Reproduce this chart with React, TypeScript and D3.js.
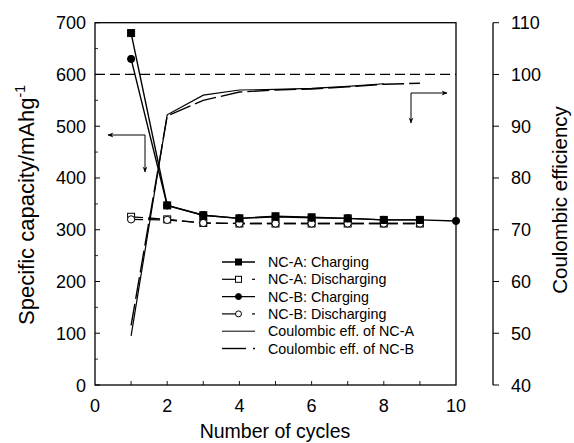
import React from "react";
import * as d3 from "d3";

const cycles = [1, 2, 3, 4, 5, 6, 7, 8, 9, 10];
const ncaCharging = [680, 347, 328, 322, 326, 324, 322, 319, 319];
const ncaDischarging = [325, 320, 313, 312, 312, 312, 312, 312, 312];
const ncbCharging = [630, 347, 328, 322, 325, 323, 322, 319, 319, 317];
const ncbDischarging = [320, 319, 313, 312, 312, 312, 312, 312, 312];
const ceNCA = [49.5, 92.2, 96.0, 97.0, 97.1, 97.3, 97.7, 98.2];
const ceNCB = [51.5, 92.0, 95.0, 96.6, 97.0, 97.2, 97.6, 98.1, 98.3];

const xTicks = [0, 2, 4, 6, 8, 10];
const yLeftTicks = [0, 100, 200, 300, 400, 500, 600, 700];
const yRightTicks = [40, 50, 60, 70, 80, 90, 100, 110];

const legendLabels = [
  "NC-A: Charging",
  "NC-A: Discharging",
  "NC-B: Charging",
  "NC-B: Discharging",
  "Coulombic eff. of NC-A",
  "Coulombic eff. of NC-B",
];

const FONT = "'Liberation Sans', Arial, sans-serif";

export default function App() {
  const W = 574, H = 443;
  const x = d3.scaleLinear().domain([0, 10]).range([95, 456]);
  const yL = d3.scaleLinear().domain([0, 700]).range([385, 22.7]);
  const yR = d3.scaleLinear().domain([40, 110]).range([385, 22.7]);
  const rightAxisX = 493;

  const lineL = (vals: number[]) =>
    d3.line<number>().x((_, i) => x(cycles[i])).y((v) => yL(v))(vals) || "";
  const lineR = (vals: number[]) =>
    d3.line<number>().x((_, i) => x(cycles[i])).y((v) => yR(v))(vals) || "";

  const minorLeft = d3.range(50, 700, 100);
  const minorBottom = d3.range(1, 10, 1);

  const sq = (cx: number, cy: number, filled: boolean, key: string, s = 7) => (
    <rect key={key} x={cx - s / 2} y={cy - s / 2} width={s} height={s}
      fill={filled ? "#000" : "#fff"} stroke="#000" strokeWidth={1} />
  );
  const circ = (cx: number, cy: number, filled: boolean, key: string, r = 3.6) => (
    <circle key={key} cx={cx} cy={cy} r={r} fill={filled ? "#000" : "#fff"} stroke="#000" strokeWidth={1} />
  );

  const legY0 = 262, legDY = 17.3, lx0 = 222, lx1 = 255, ltx = 268;

  return (
    <svg width={W} height={H} style={{ position: "absolute", left: 0, top: 0, background: "#fff" }}
      fontFamily={FONT}>
      <rect x={0} y={0} width={W} height={H} fill="#fff" />
      {/* box */}
      <rect x={95} y={22.7} width={361} height={385 - 22.7} fill="none" stroke="#000" strokeWidth={1.3} />
      {/* 100% line */}
      <line x1={95} x2={456} y1={yL(600)} y2={yL(600)} stroke="#000" strokeWidth={1.2} strokeDasharray="10,5" />

      {/* left ticks */}
      {yLeftTicks.map((t) => (
        <g key={"yl" + t}>
          <line x1={95} x2={100} y1={yL(t)} y2={yL(t)} stroke="#000" />
          <text x={86} y={yL(t) + 6.5} fontSize={18} textAnchor="end">{t}</text>
        </g>
      ))}
      {minorLeft.map((t) => (
        <line key={"ylm" + t} x1={95} x2={98} y1={yL(t)} y2={yL(t)} stroke="#000" strokeWidth={0.8} />
      ))}
      {/* bottom ticks */}
      {minorBottom.map((t) => (
        <line key={"xm" + t} x1={x(t)} x2={x(t)} y1={385} y2={381} stroke="#000" strokeWidth={0.9} />
      ))}
      {xTicks.map((t) => (
        <text key={"xt" + t} x={x(t)} y={412} fontSize={18} textAnchor="middle">{t}</text>
      ))}

      {/* right axis */}
      <line x1={rightAxisX} x2={rightAxisX} y1={yR(110)} y2={yR(40)} stroke="#000" strokeWidth={1.3} />
      {yRightTicks.map((t) => (
        <g key={"yr" + t}>
          <line x1={rightAxisX} x2={rightAxisX + 6} y1={yR(t)} y2={yR(t)} stroke="#000" />
          <text x={511} y={yR(t) + 6.5} fontSize={18} textAnchor="start">{t}</text>
        </g>
      ))}

      {/* axis titles */}
      <text transform="translate(34,205) rotate(-90)" fontSize={22} textAnchor="middle">
        Specific capacity/mAhg<tspan dy={-9} fontSize={14}>-1</tspan>
      </text>
      <text transform="translate(567,200) rotate(-90)" fontSize={20.5} textAnchor="middle">Coulombic efficiency</text>
      <text x={275} y={438} fontSize={19.5} textAnchor="middle">Number of cycles</text>

      {/* CE curves */}
      <path d={lineR(ceNCA)} fill="none" stroke="#000" strokeWidth={1.2} />
      <path d={lineR(ceNCB)} fill="none" stroke="#000" strokeWidth={1.4} strokeDasharray="22,5" />

      {/* capacity lines */}
      <path d={lineL(ncaDischarging)} fill="none" stroke="#000" strokeWidth={1.3} strokeDasharray="12,5" />
      <path d={lineL(ncbDischarging)} fill="none" stroke="#000" strokeWidth={1.3} strokeDasharray="12,5" />
      <path d={lineL(ncaCharging)} fill="none" stroke="#000" strokeWidth={1.4} />
      <path d={lineL(ncbCharging)} fill="none" stroke="#000" strokeWidth={1.4} />

      {/* markers */}
      {ncaDischarging.map((v, i) => sq(x(cycles[i]), yL(v), false, "nad" + i))}
      {ncbDischarging.map((v, i) => circ(x(cycles[i]), yL(v), false, "nbd" + i))}
      {ncbCharging.map((v, i) => circ(x(cycles[i]), yL(v), true, "nbc" + i))}
      {ncaCharging.map((v, i) => sq(x(cycles[i]), yL(v), true, "nac" + i))}

      {/* arrows */}
      <defs>
        <marker id="ah" viewBox="0 0 10 10" refX={9} refY={5} markerWidth={7} markerHeight={6} orient="auto-start-reverse" markerUnits="userSpaceOnUse">
          <path d="M0,1 L10,5 L0,9 L3,5 Z" fill="#000" />
        </marker>
      </defs>
      <path d="M145,172 L145,135 L108,135" fill="none" stroke="#000" strokeWidth={1} markerStart="url(#ah)" markerEnd="url(#ah)" />
      <path d="M411,123 L411,93 L447,93" fill="none" stroke="#000" strokeWidth={1} markerStart="url(#ah)" markerEnd="url(#ah)" />

      {/* legend */}
      {legendLabels.map((lab, i) => {
        const y = legY0 + i * legDY;
        const mx = (lx0 + lx1) / 2;
        let sample: React.ReactNode = null;
        if (i === 0 || i === 2) {
          sample = (
            <g>
              <line x1={lx0} x2={lx1} y1={y} y2={y} stroke="#000" strokeWidth={1.4} />
              {i === 0 ? sq(mx, y, true, "l0", 6) : circ(mx, y, true, "l2", 3)}
            </g>
          );
        } else if (i === 1 || i === 3) {
          sample = (
            <g>
              <line x1={lx0} x2={mx} y1={y} y2={y} stroke="#000" strokeWidth={1.2} />
              <line x1={lx1 - 3} x2={lx1} y1={y} y2={y} stroke="#000" strokeWidth={1.2} />
              {i === 1 ? sq(mx, y, false, "l1", 6) : circ(mx, y, false, "l3", 3)}
            </g>
          );
        } else if (i === 4) {
          sample = <line x1={lx0} x2={lx1} y1={y} y2={y} stroke="#000" strokeWidth={1} />;
        } else {
          sample = (
            <g>
              <line x1={lx0} x2={lx0 + 24} y1={y} y2={y} stroke="#000" strokeWidth={1.4} />
              <line x1={lx1 - 2} x2={lx1} y1={y} y2={y} stroke="#000" strokeWidth={1.4} />
            </g>
          );
        }
        return (
          <g key={"lg" + i}>
            {sample}
            <text x={ltx} y={y + 5} fontSize={14.3}>{lab}</text>
          </g>
        );
      })}
    </svg>
  );
}
